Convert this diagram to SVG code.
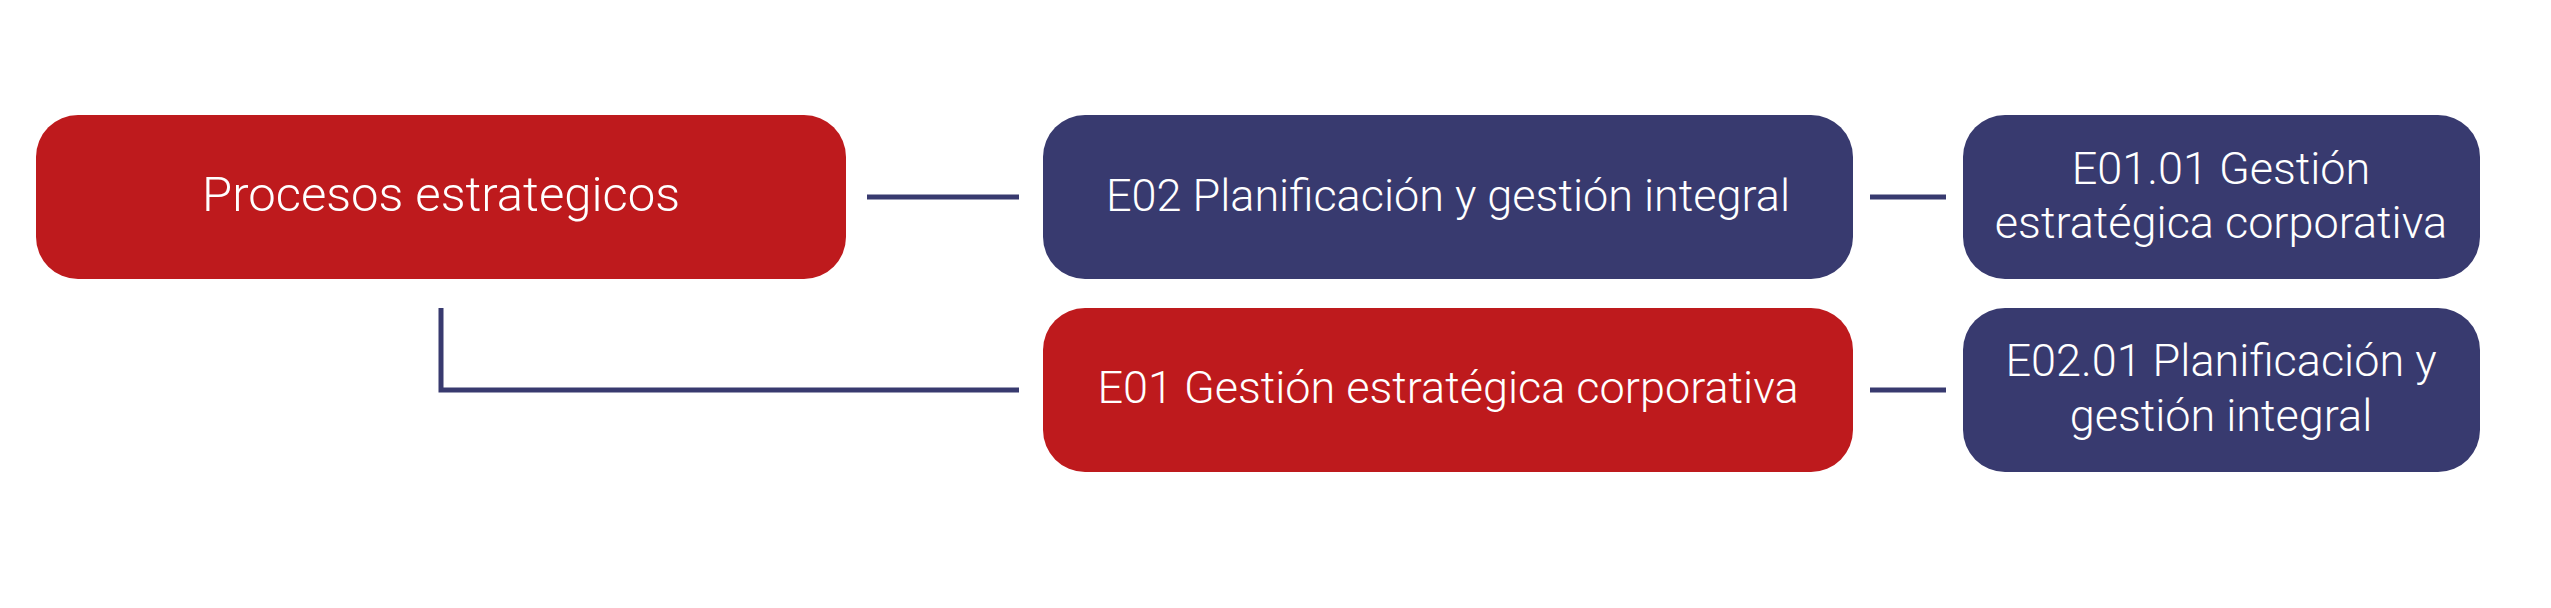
<svg xmlns="http://www.w3.org/2000/svg" width="2551" height="608" viewBox="0 0 2551 608">
<style>
.red{fill:#be1a1d}
.navy{fill:#383a6f}
.t{font-family:Roboto,"Liberation Sans",sans-serif;font-weight:300;font-size:45px;fill:#ffffff;text-anchor:middle}
.big{font-size:49px}
.c{stroke:#383a6f;stroke-width:5;fill:none}
</style>
<rect width="2551" height="608" fill="#ffffff"/>
<g id="connectors">
<line class="c" x1="867" y1="197" x2="1019" y2="197"/>
<polyline class="c" points="441,308 441,390 1019,390"/>
<line class="c" x1="1870" y1="197" x2="1946" y2="197"/>
<line class="c" x1="1870" y1="390" x2="1946" y2="390"/>
</g>
<g id="procesos">
<rect class="red" x="36" y="115" width="810" height="164" rx="42" ry="42"/>
<text class="t big" x="441" y="211">Procesos estrategicos</text>
</g>
<g id="e02">
<rect class="navy" x="1043" y="115" width="810" height="164" rx="42" ry="42"/>
<text class="t" x="1448" y="211">E02 Planificación y gestión integral</text>
</g>
<g id="e01">
<rect class="red" x="1043" y="308" width="810" height="164" rx="42" ry="42"/>
<text class="t" x="1448" y="403">E01 Gestión estratégica corporativa</text>
</g>
<g id="e0101">
<rect class="navy" x="1963" y="115" width="517" height="164" rx="42" ry="42"/>
<text class="t" x="2221" y="184">E01.01 Gestión</text>
<text class="t" x="2221" y="238">estratégica corporativa</text>
</g>
<g id="e0201">
<rect class="navy" x="1963" y="308" width="517" height="164" rx="42" ry="42"/>
<text class="t" x="2221" y="376">E02.01 Planificación y</text>
<text class="t" x="2221" y="431">gestión integral</text>
</g>
</svg>
